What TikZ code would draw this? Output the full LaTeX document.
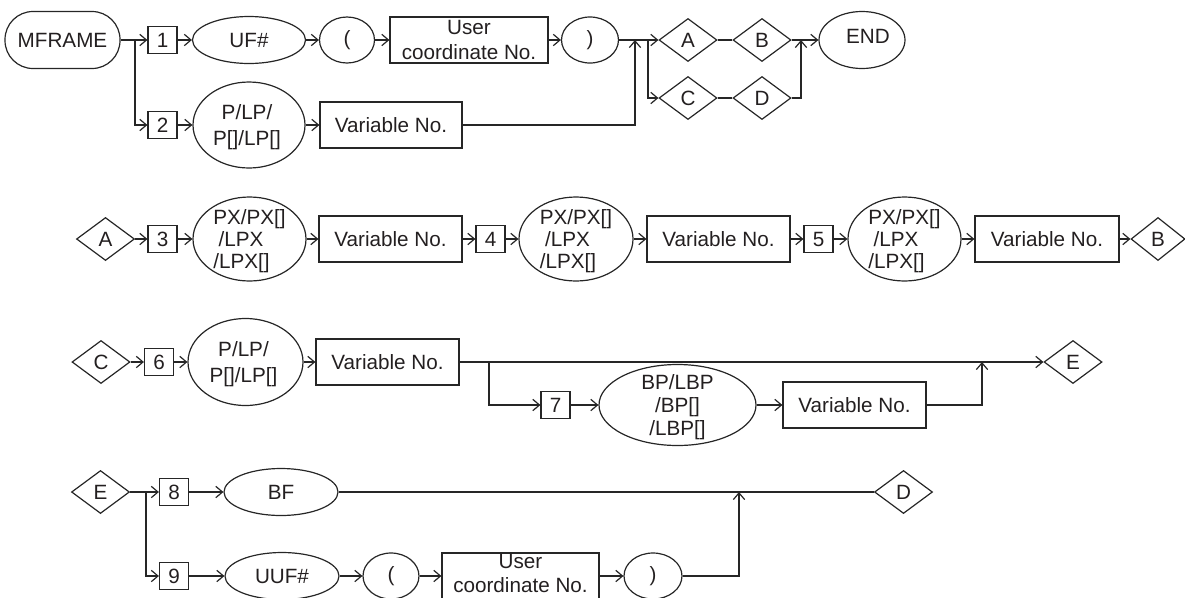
\documentclass[tikz,border=0pt]{standalone}
\usepackage{fontspec}
\setmainfont{Liberation Sans}
\usetikzlibrary{shapes.geometric,arrows.meta}
\definecolor{lc}{RGB}{38,38,38}
\definecolor{tc}{RGB}{35,31,32}
\tikzset{
  base/.style={draw=lc, line width=0.9pt, text=tc, inner sep=0pt, font=\fontsize{15.5}{18}\selectfont},
  numbox/.style={base, rectangle, minimum width=21.75pt, minimum height=20.25pt},
  ovalbox/.style 2 args={base, ellipse, minimum width=#1*0.75pt, minimum height=#2*0.75pt},
  rbox/.style 2 args={base, rectangle, minimum width=#1*0.75pt, minimum height=#2*0.75pt},
  dia/.style={base, diamond, minimum width=43.5pt, minimum height=32.25pt},
  lbl/.style={text=tc, inner sep=0pt, align=center},
  conn/.style={line width=0.9pt, draw=lc},
  arr/.style={conn, -{Straight Barb[length=5pt,width=8.5pt]}}
}
\begin{document}
\begin{tikzpicture}[x=0.75pt,y=-0.75pt]
\useasboundingbox (0,0) rectangle (1185,597);
% ---------- row 1 / 2
\node[base, rectangle, rounded corners=21pt, minimum width=86.25pt, minimum height=42.75pt] (mframe) at (62.5,40) {MFRAME};
\coordinate (split1) at (135,40);
\node[numbox] (b1) at (162.5,40) {1};
\node[ovalbox={113}{47}] (uf) at (249,40) {UF\#};
\node[ovalbox={55}{46}] (lp1) at (347,40) {(};
\node[rbox={158}{46}] (uc1) at (469,40) {};
\node[lbl, font=\fontsize{15.5}{19}\selectfont] (uc1t) at (469,40) {User\\coordinate No.};
\node[ovalbox={57}{46}] (rp1) at (590,40) {)};
\coordinate (join1) at (635,40);
\coordinate (split2) at (648,40);
\node[dia] (dA1) at (688,40) {A};
\node[dia] (dB1) at (762,40) {B};
\coordinate (join2) at (801,40);
\node[ovalbox={86}{57}] (end) at (862,40) {};
\node[lbl, font=\fontsize{15.5}{18}\selectfont] (endt) at (868,36) {END};

\node[numbox] (b2) at (162.5,125) {2};
\node[ovalbox={112}{86}] (e2) at (249,125) {};
\node[lbl, font=\fontsize{15.5}{20}\selectfont] (e2t) at (247,127) {P/LP/\\P[]/LP[]};
\node[rbox={142}{46}] (v2) at (391,125) {Variable No.};
\node[dia] (dC1) at (688,98) {C};
\node[dia] (dD1) at (762,98) {D};

\draw[conn] (mframe) -- (split1);
\draw[arr] (split1) -- (b1);
\draw[arr] (split1) |- (b2);
\draw[arr] (b1) -- (uf);
\draw[arr] (uf) -- (lp1);
\draw[arr] (lp1) -- (uc1);
\draw[arr] (uc1) -- (rp1);
\draw[arr] (rp1) -- (dA1);
\draw[arr] (b2) -- (e2);
\draw[arr] (e2) -- (v2);
\draw[arr] (v2) -| (join1);
\draw[arr] (split2) |- (dC1);
\draw[conn] (dA1) -- (dB1);
\draw[conn] (dC1) -- (dD1);
\draw[arr] (dB1) -- (end);
\draw[arr] (dD1) -| (join2);

% ---------- row 3
\node[dia] (dA3) at (105.5,239) {A};
\node[numbox] (b3) at (162.5,239) {3};
\node[ovalbox={113}{84}] (e3) at (249.5,239) {};
\node[lbl, align=left, font=\fontsize{15.5}{16.5}\selectfont] (e3t) at (249.5,241) {PX/PX[]\\\hspace*{4pt}/LPX\\/LPX[]};
\node[rbox={143}{46}] (v3) at (390.5,239) {Variable No.};
\node[numbox] (b4) at (490.5,239) {4};
\node[ovalbox={114}{84}] (e4) at (576,239) {};
\node[lbl, align=left, font=\fontsize{15.5}{16.5}\selectfont] (e4t) at (576,241) {PX/PX[]\\\hspace*{4pt}/LPX\\/LPX[]};
\node[rbox={143}{46}] (v4) at (718.5,239) {Variable No.};
\node[numbox] (b5) at (818.5,239) {5};
\node[ovalbox={113}{84}] (e5) at (904.5,239) {};
\node[lbl, align=left, font=\fontsize{15.5}{16.5}\selectfont] (e5t) at (904.5,241) {PX/PX[]\\\hspace*{4pt}/LPX\\/LPX[]};
\node[rbox={144}{46}] (v5) at (1047,239) {Variable No.};
\node[dia, minimum width=40.5pt] (dB3) at (1158,239) {B};

\draw[arr] (dA3) -- (b3);
\draw[arr] (b3) -- (e3);
\draw[arr] (e3) -- (v3);
\draw[arr] (v3) -- (b4);
\draw[arr] (b4) -- (e4);
\draw[arr] (e4) -- (v4);
\draw[arr] (v4) -- (b5);
\draw[arr] (b5) -- (e5);
\draw[arr] (e5) -- (v5);
\draw[arr] (v5) -- (dB3);

% ---------- row 4
\node[dia] (dC4) at (101,362) {C};
\node[numbox] (b6) at (159,362) {6};
\node[ovalbox={115}{87}] (e6) at (245.5,362) {};
\node[lbl, font=\fontsize{15.5}{20}\selectfont] (e6t) at (243.5,364) {P/LP/\\P[]/LP[]};
\node[rbox={143}{46}] (v6) at (387.5,362) {Variable No.};
\coordinate (split4) at (489,362);
\node[numbox] (b7) at (555.5,405) {7};
\node[ovalbox={157}{81}] (e7) at (677.5,405) {};
\node[lbl, font=\fontsize{15.5}{17.5}\selectfont] (e7t) at (677.5,407) {BP/LBP\\/BP[]\\/LBP[]};
\node[rbox={143}{46}] (v7) at (854.5,405) {Variable No.};
\coordinate (join4) at (982,362);
\node[dia] (dE4) at (1073,362) {E};

\draw[arr] (dC4) -- (b6);
\draw[arr] (b6) -- (e6);
\draw[arr] (e6) -- (v6);
\draw[arr] (v6) -- (dE4);
\draw[arr] (split4) |- (b7);
\draw[arr] (b7) -- (e7);
\draw[arr] (e7) -- (v7);
\draw[arr] (v7) -| (join4);

% ---------- row 5 / 6
\node[dia] (dE5) at (100.5,492) {E};
\coordinate (split5) at (146,492);
\node[numbox] (b8) at (174,492) {8};
\node[ovalbox={114}{47}] (bf) at (281,492) {BF};
\coordinate (join5) at (739,492);
\node[dia] (dD5) at (903.5,492) {D};

\node[numbox] (b9) at (174,576) {9};
\node[ovalbox={114}{47}] (uuf) at (282,576) {UUF\#};
\node[ovalbox={56}{46}] (lp6) at (391,576) {(};
\node[rbox={157}{46}] (uc6) at (520.5,576) {};
\node[lbl, font=\fontsize{15.5}{18}\selectfont] (uc6t) at (520.5,573) {User\\coordinate No.};
\node[ovalbox={58}{46}] (rp6) at (653,576) {)};

\draw[arr] (dE5) -- (b8);
\draw[arr] (split5) |- (b9);
\draw[arr] (b8) -- (bf);
\draw[conn] (bf) -- (dD5);
\draw[arr] (b9) -- (uuf);
\draw[arr] (uuf) -- (lp6);
\draw[arr] (lp6) -- (uc6);
\draw[arr] (uc6) -- (rp6);
\draw[arr] (rp6) -| (join5);
\end{tikzpicture}
\end{document}
